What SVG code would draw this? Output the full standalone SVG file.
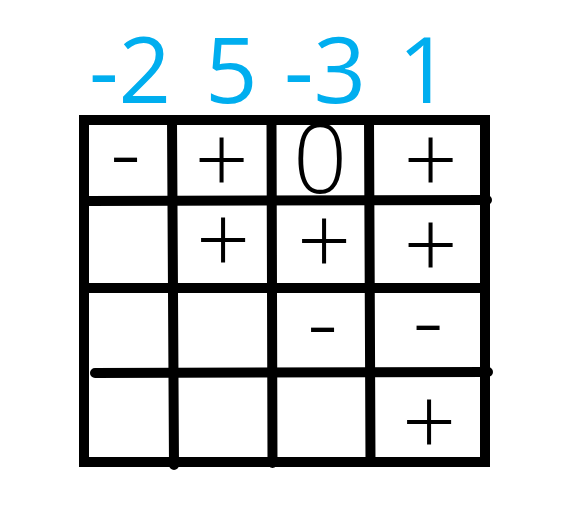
<svg xmlns="http://www.w3.org/2000/svg" width="564" height="516" viewBox="0 0 564 516">
<style>
.ln{stroke:#000;stroke-width:10;fill:none;stroke-linecap:round}
.blue{font-family:"Open Sans","Noto Sans",sans-serif;font-size:92px;fill:#00AEEF}
.blk{font-family:"Open Sans","Noto Sans",sans-serif;font-size:95px;font-weight:300;fill:#000;text-anchor:middle}
</style>
<rect width="564" height="516" fill="#fff"/>
<g id="headers">
<text class="blue" x="89" y="103">-2</text>
<text class="blue" x="205" y="103">5</text>
<text class="blue" x="284" y="103">-3</text>
<text class="blue" x="398" y="103">1</text>
</g>
<g id="grid">
<rect x="84" y="120" width="401" height="342" stroke="#000" stroke-width="10" fill="none"/>
<line class="ln" x1="172" y1="120" x2="174" y2="465"/>
<line class="ln" x1="271.5" y1="120" x2="272.5" y2="463"/>
<line class="ln" x1="369" y1="120" x2="370.5" y2="462"/>
<line class="ln" x1="89" y1="201" x2="487" y2="200"/>
<line class="ln" x1="84" y1="288" x2="485" y2="288"/>
<line class="ln" x1="95" y1="373" x2="488" y2="372"/>
</g>
<g id="cells">
<text class="blk" x="125.5" y="186">-</text>
<text class="blk" x="221.5" y="194">+</text>
<text class="blk" x="320" y="193">0</text>
<text class="blk" x="430.5" y="194">+</text>
<text class="blk" x="223" y="274">+</text>
<text class="blk" x="324" y="275">+</text>
<text class="blk" x="430.5" y="279">+</text>
<text class="blk" x="322.5" y="356">-</text>
<text class="blk" x="428" y="354">-</text>
<text class="blk" x="429" y="456">+</text>
</g>
</svg>
